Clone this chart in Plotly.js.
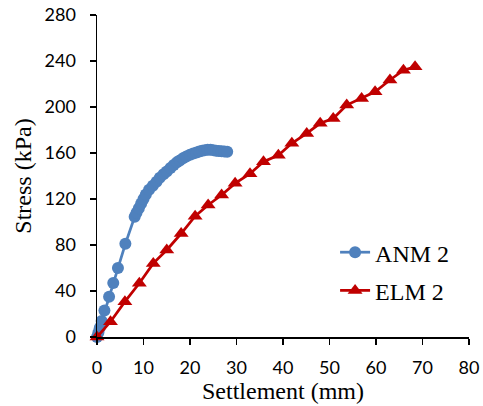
<!DOCTYPE html>
<html><head><meta charset="utf-8">
<script src="https://cdn.plot.ly/plotly-3.0.1.min.js"></script>
<style>html,body{margin:0;padding:0;background:#fff}#chart{width:483px;height:406px}</style>
</head><body><div id="chart"></div>
<script>
const anmName = "ANM 2";
const anmX = [0, 0.3, 0.6, 1.0, 1.6, 2.6, 3.5, 4.5, 6.1, 8.1, 8.5, 9.0, 9.5, 10.0, 10.5, 11.2, 12.0, 12.8, 13.5, 14.3, 15.0, 15.8, 16.5, 17.2, 17.8, 18.5, 19.2, 20.0, 20.7, 21.4, 22.0, 22.6, 23.2, 23.8, 24.4, 25.0, 25.6, 26.2, 26.8, 27.4, 28.0];
const anmY = [0, 4, 8, 14, 23, 35, 47, 60, 81, 104.5, 108, 112, 116, 120, 124, 128, 131.5, 135, 138.5, 141.5, 144, 147, 149.5, 152, 153.5, 155.5, 157, 158.5, 159.5, 160.5, 161.3, 162, 162.5, 162.8, 162.8, 162.5, 162, 161.7, 161.5, 161.3, 161];
const elmName = "ELM 2";
const elmX = [0, 2.9, 6.0, 9.1, 12.1, 15.0, 18.1, 21.1, 23.9, 26.8, 29.7, 32.9, 35.8, 39.0, 41.9, 45.1, 48.0, 50.8, 53.7, 56.9, 59.8, 63.0, 65.9, 68.4];
const elmY = [0, 13.3, 30.7, 46.7, 64, 75.7, 90, 105, 114.8, 123.5, 133.6, 142, 152.4, 158, 168.4, 177, 185.8, 190, 201.7, 207.5, 213.3, 223.5, 232, 235];
const xTitle = "Settlement (mm)";
const yTitle = "Stress (kPa)";

const data = [
  {x: anmX, y: anmY, name: anmName, legendgroup: "a", type: "scatter", mode: "lines+markers", cliponaxis: false,
   line: {color: "#4F81BD", width: 2.75}, marker: {symbol: "circle", size: 12, color: "#4F81BD"}},
  {x: elmX, y: elmY, name: elmName, legendgroup: "b", type: "scatter", mode: "lines+markers", cliponaxis: false,
   line: {color: "#C00000", width: 2.75}, marker: {symbol: "triangle-up", size: 13, color: "#C00000"}}
];
const tickFont = {family: "Lato, 'Open Sans', sans-serif", size: 18, color: "#000"};
const titleFont = {family: "'Liberation Serif', 'Times New Roman', serif", size: 24, color: "#000"};
const layout = {
  width: 483, height: 406,
  margin: {l: 97, r: 14, t: 15, b: 69},
  paper_bgcolor: "#fff", plot_bgcolor: "#fff",
  showlegend: true,
  legend: {x: 0.64, y: 0.332, xanchor: "left", yanchor: "top", font: titleFont, bgcolor: "rgba(0,0,0,0)", tracegroupgap: 4},
  xaxis: {range: [0, 80], dtick: 10, tick0: 0, showgrid: false, zeroline: false,
    showline: true, linecolor: "#000", linewidth: 1.5, ticks: "outside", ticklen: 6, tickcolor: "#000", tickwidth: 1.5,
    ticklabelstandoff: 8,
    tickfont: tickFont, title: {text: xTitle, font: titleFont, standoff: 0}},
  yaxis: {range: [0, 280], dtick: 40, tick0: 0, showgrid: false, zeroline: false,
    showline: true, linecolor: "#000", linewidth: 1.5, ticks: "outside", ticklen: 6, tickcolor: "#000", tickwidth: 1.5,
    ticklabelstandoff: 10,
    tickfont: tickFont, title: {text: yTitle, font: titleFont, standoff: 6}}
};
Plotly.newPlot("chart", data, layout, {displayModeBar: false, staticPlot: true});
</script></body></html>
